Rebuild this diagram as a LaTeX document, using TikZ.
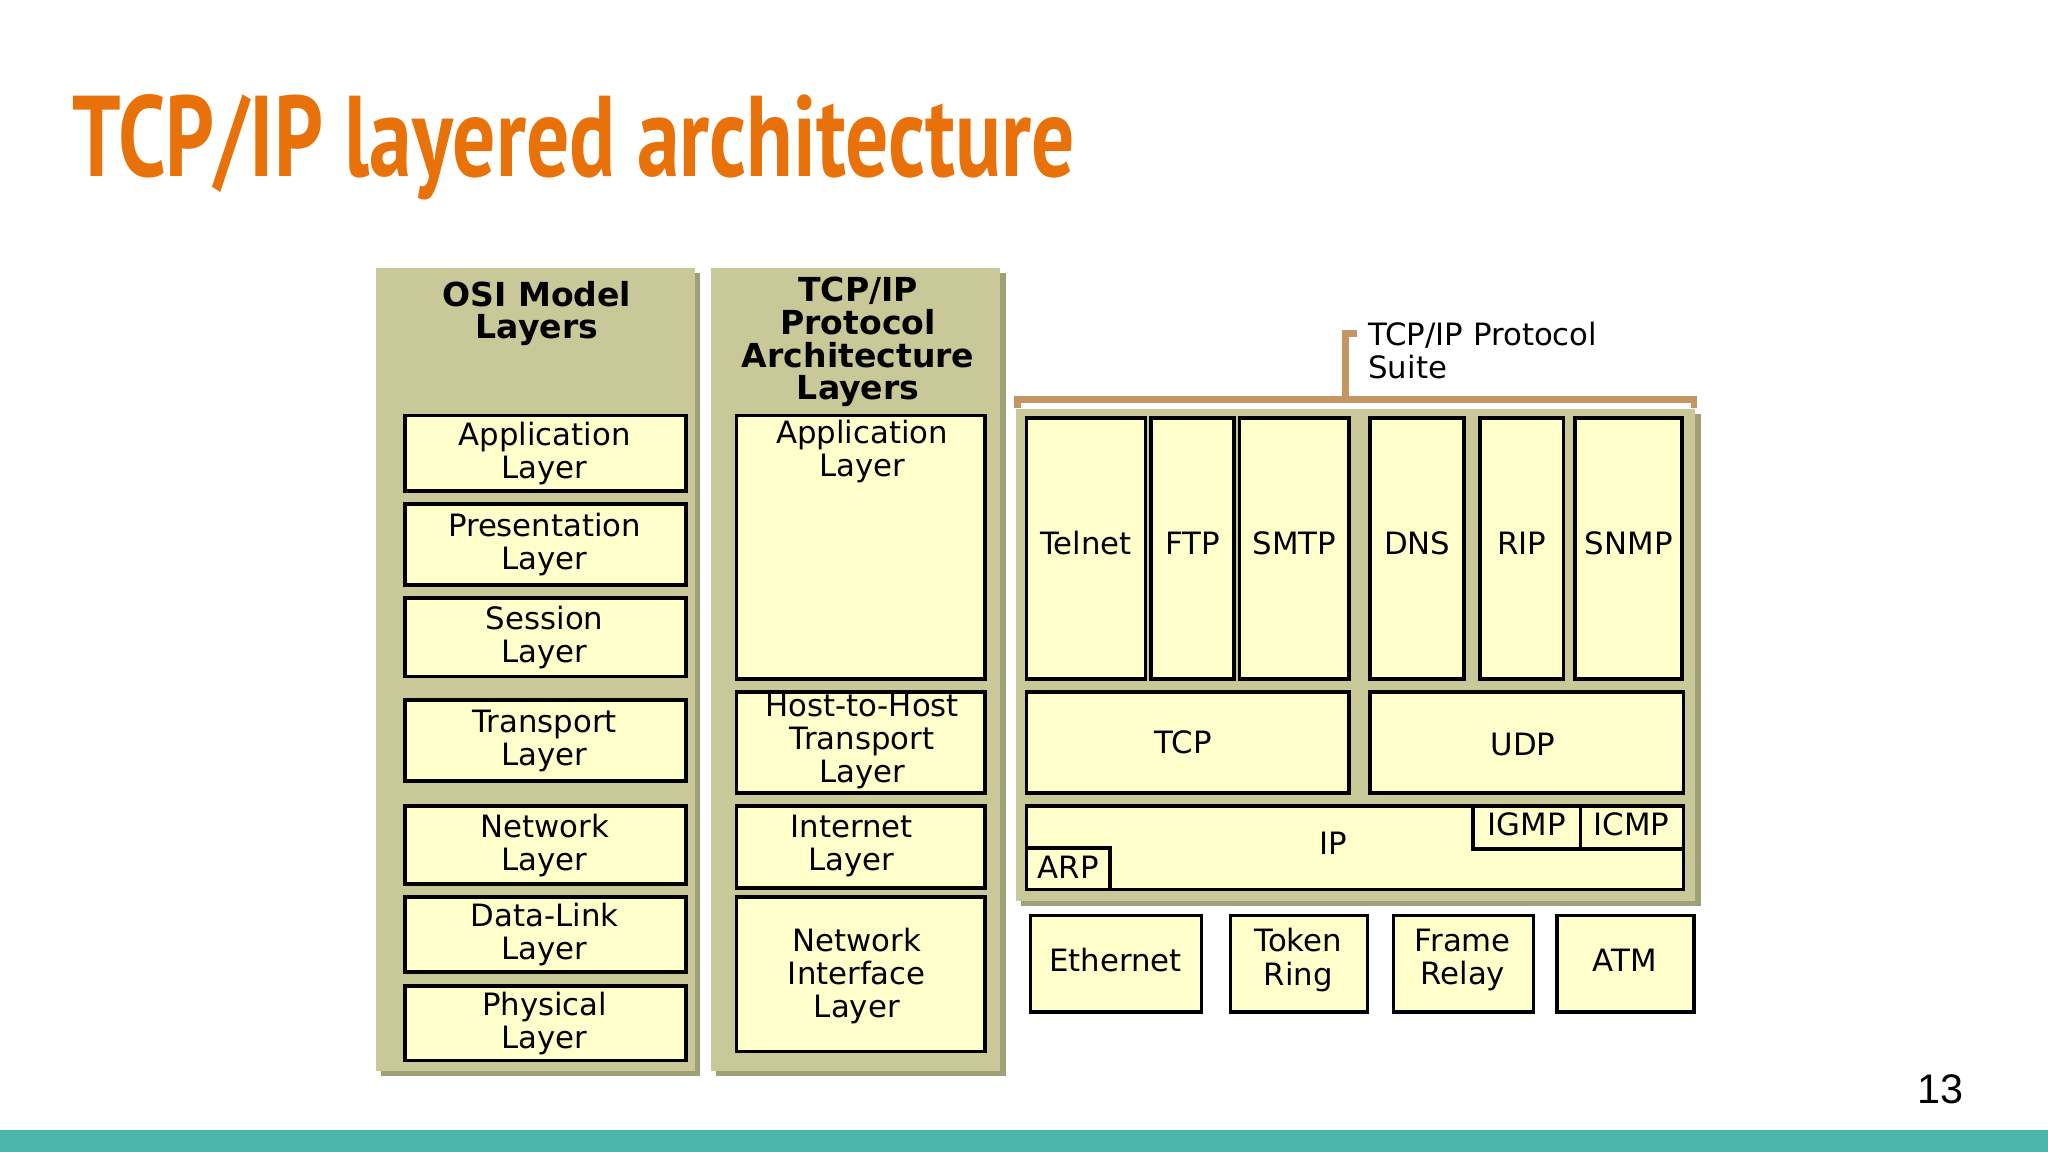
\documentclass[tikz,border=0pt]{standalone}
\usepackage{fontspec}
\setmainfont{DejaVu Sans}
\newfontfamily\titlef{PT Sans}
\newfontfamily\numf{Liberation Sans}
\definecolor{ttl}{RGB}{232,113,10}
\definecolor{panel}{RGB}{200,200,152}
\definecolor{shade}{RGB}{160,160,120}
\definecolor{cell}{RGB}{255,255,204}
\definecolor{brk}{RGB}{196,150,100}
\definecolor{bar}{RGB}{77,182,172}
\begin{document}
\begin{tikzpicture}[x=0.01cm,y=-0.01cm,
  pnl/.style={fill=panel,draw=none},
  shd/.style={fill=shade,draw=none},
  box/.style={fill=cell,draw=black,line width=0.8pt},
  lbl/.style={font=\fontsize{6.7}{7.2}\selectfont,align=center,inner sep=0pt}]
\useasboundingbox (0,0) rectangle (1568,882);
\fill[white] (0,0) rectangle (1568,882);
\fill[bar] (0,865) rectangle (1568,882);
\node[anchor=base west,inner sep=0pt,text=ttl] (title) at (55,135)
  {\scalebox{0.745}[1]{\titlef\bfseries\fontsize{25}{25}\selectfont TCP/IP layered architecture}};
\node[anchor=center,inner sep=0pt] (num) at (1486,834) {\numf\fontsize{9}{9}\selectfont 13};
% panels
\fill[shd] (292,209) rectangle (536,824);
\fill[pnl] (288,205) rectangle (532,820);
\fill[shd] (548,209) rectangle (770,824);
\fill[pnl] (544,205) rectangle (766,820);
\fill[shd] (782,317) rectangle (1302,694);
\fill[pnl] (778,313) rectangle (1298,690);
% bracket
\draw[brk,line width=1.5pt] (779,312) -- (779,306) -- (1297,306) -- (1297,312);
\draw[brk,line width=1.5pt] (1030,306) -- (1030,255) -- (1039,255);
\node[lbl,align=left,anchor=north west] (suite) at (1047,246) {TCP/IP Protocol\\Suite};
% headers
\node[lbl,font=\fontsize{7.2}{7.1}\selectfont\bfseries] (osih) at (411,240) {OSI Model\\Layers};
\node[lbl,font=\fontsize{7.2}{7.1}\selectfont\bfseries] (tcph) at (657,262) {TCP/IP\\Protocol\\Architecture\\Layers};
% OSI boxes
\foreach \n/\a/\b/\t in {app/318/376/Application,pre/386/448/Presentation,ses/458/518/Session,tra/536/598/Transport,net/617/677/Network,dll/687/744/Data-Link,phy/755/812/Physical}{
  \draw[box] (310,\a) rectangle (525,\b);
  \node[lbl] (osi\n) at (417,{(\a+\b)/2}) {\t\\Layer};
}
% TCP/IP architecture boxes
\draw[box] (564,318) rectangle (754,520);
\node[lbl,anchor=north] (tapp) at (660,321) {Application\\Layer};
\draw[box] (564,530) rectangle (754,607);
\node[lbl] (thost) at (660,568) {Host-to-Host\\Transport\\Layer};
\draw[box] (564,617) rectangle (754,680);
\node[lbl] (tint) at (652,648) {Internet\\Layer};
\draw[box] (564,687) rectangle (754,805);
\node[lbl] (tnif) at (656,747) {Network\\Interface\\Layer};
% protocols
\foreach \n/\a/\b in {Telnet/786/877,FTP/881/945,SMTP/949/1033,DNS/1049/1121,RIP/1133/1197,SNMP/1206/1288}{
  \draw[box] (\a,320) rectangle (\b,520);
  \node[lbl] (p\n) at ({(\a+\b)/2},416) {\n};
}
\draw[box] (786,530) rectangle (1033,607);
\node[lbl] (tcp) at (906,568) {TCP};
\draw[box] (1049,530) rectangle (1289,607);
\node[lbl] (udp) at (1166,570) {UDP};
\draw[box] (786,617) rectangle (1289,681);
\node[lbl] (ip) at (1021,646) {IP};
\draw[box] (1128,617) rectangle (1210,650);
\node[lbl] (igmp) at (1169,631) {IGMP};
\draw[box] (1210,617) rectangle (1289,650);
\node[lbl] (icmp) at (1249,631) {ICMP};
\draw[box] (786,649) rectangle (850,681);
\node[lbl] (arp) at (818,664) {ARP};
% link technologies
\draw[box] (789,701) rectangle (920,775);
\node[lbl] (eth) at (854,735) {Ethernet};
\draw[box] (942,701) rectangle (1047,775);
\node[lbl] (tok) at (994,735) {Token\\Ring};
\draw[box] (1067,701) rectangle (1174,775);
\node[lbl] (fr) at (1120,735) {Frame\\Relay};
\draw[box] (1192,701) rectangle (1297,775);
\node[lbl] (atm) at (1244,735) {ATM};
\end{tikzpicture}
\end{document}
